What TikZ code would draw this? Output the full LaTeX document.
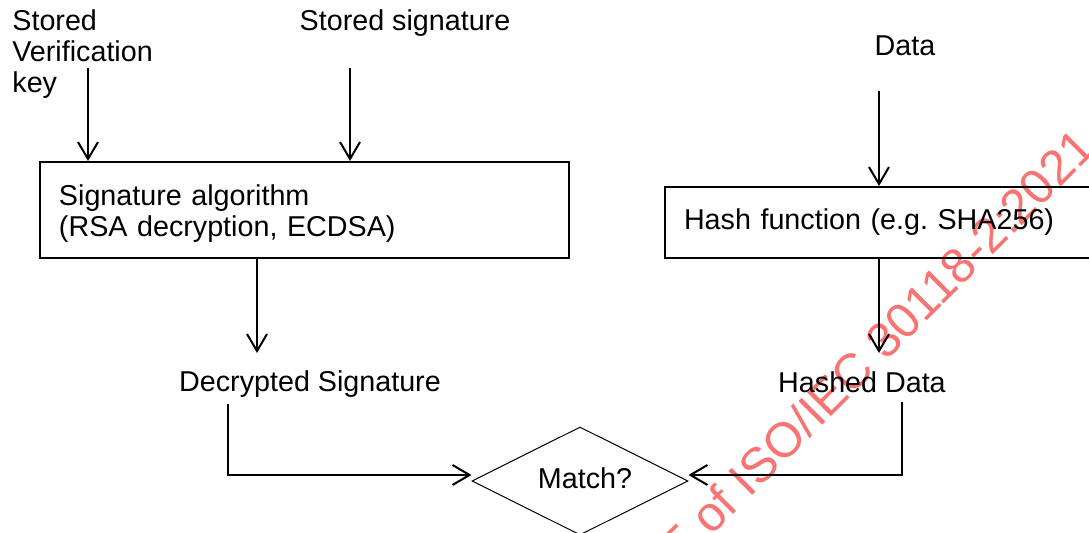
\documentclass[tikz,border=0pt]{standalone}
\usepackage{fontspec}
\setmainfont{Liberation Sans}
\usetikzlibrary{arrows.meta,shapes.geometric}
\definecolor{wmred}{RGB}{250,115,115}

\begin{document}
\begin{tikzpicture}[x=0.5pt,y=-0.5pt,
    font=\fontsize{14.35pt}{15.5pt}\selectfont,
    >={Straight Barb[length=8.5pt,width=10pt]},
    lbl/.style={inner sep=0pt},
    box/.style={draw,line width=1pt,align=left,inner xsep=9.5pt,inner ysep=0pt},
    conn/.style={->,line width=1pt}]
    \useasboundingbox (0,0) rectangle (1089,533);
    \clip (0,0) rectangle (1089,533);
    \node[rotate=45,anchor=base east,text=wmred,inner sep=0pt,font=\fontsize{24.5pt}{24.5pt}\selectfont] (wm) at (1098,150) {PDF of ISO/IEC 30118-2:2021};
    \node[lbl,align=left,anchor=west] (vkey) at (12,54) {Stored\\Verification\\key};
    \node[lbl] (ssig) at (405,23) {Stored signature};
    \node[lbl] (data) at (905,46) {Data};
    \node[box,text width=245.5pt,minimum height=48pt] (sigalg) at (304.5,210) {\rule{0pt}{13.5pt}Signature algorithm\\(RSA decryption, ECDSA)};
    \node[box,text width=199pt,minimum height=35.5pt,anchor=west] (hash) at (664,222.5) {Hash function (e.g.\ SHA256)};
    \node[lbl] (dsig) at (310,384) {Decrypted Signature};
    \node[lbl] (hdata) at (862,382) {Hashed Data};
    \node[diamond,draw,line width=0.5pt,minimum width=108pt,minimum height=54pt,inner sep=0pt] (match) at (580,481) {};
    \node[lbl] (mtxt) at (585,478) {Match?};
    \coordinate (vk) at (88,68);
    \coordinate (ss) at (350,68);
    \coordinate (dt) at (879,91);
    \coordinate (ds) at (257,353);
    \coordinate (hd) at (879,353);
    \coordinate (dl) at (228,404);
    \coordinate (hl) at (902,402);
    \draw[conn] (vk) -- (vk |- sigalg.north);
    \draw[conn] (ss) -- (ss |- sigalg.north);
    \draw[conn] (dt) -- (dt |- hash.north);
    \draw[conn] (ds |- sigalg.south) -- (ds);
    \draw[conn] (hd |- hash.south) -- (hd);
    \draw[conn] (dl) |- ([yshift=3pt]match.west);
    \draw[conn] (hl) |- ([yshift=3pt]match.east);
\end{tikzpicture}
\end{document}
